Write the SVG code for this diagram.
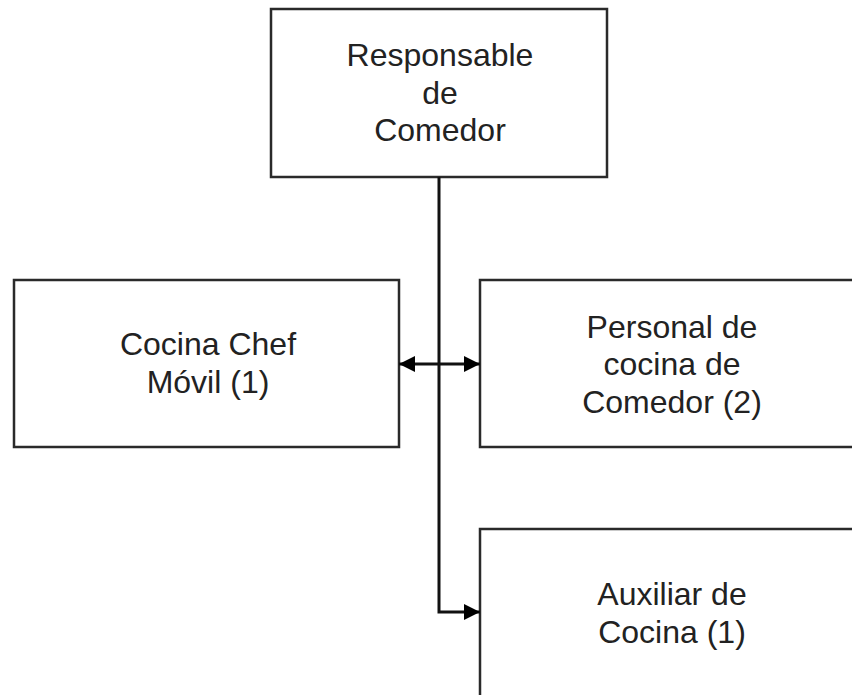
<svg xmlns="http://www.w3.org/2000/svg" width="852" height="695" viewBox="0 0 852 695">
<defs>
<style>
.box{fill:#fff;stroke:#2a2a2a;stroke-width:2.5}
.t{font-family:"Liberation Sans",Arial,sans-serif;font-size:32px;fill:#222;text-anchor:middle}
.c{fill:none;stroke:#111;stroke-width:3}
</style>
<marker id="ah" viewBox="0 0 16 16" refX="16" refY="8" markerWidth="16" markerHeight="16" markerUnits="userSpaceOnUse" orient="auto-start-reverse">
<path d="M0,0 L16,8 L0,16 Z" fill="#000"/>
</marker>
</defs>
<rect width="852" height="695" fill="#fff"/>
<g id="responsable">
<rect class="box" x="271" y="9" width="336" height="168"/>
<text class="t" x="440" y="66">Responsable</text>
<text class="t" x="440" y="104">de</text>
<text class="t" x="440" y="141">Comedor</text>
</g>
<g id="cocina-chef">
<rect class="box" x="14" y="280" width="385" height="167"/>
<text class="t" x="208" y="355">Cocina Chef</text>
<text class="t" x="208" y="393">Móvil (1)</text>
</g>
<g id="personal">
<rect class="box" x="480" y="280" width="390" height="167"/>
<text class="t" x="672" y="338">Personal de</text>
<text class="t" x="672" y="375">cocina de</text>
<text class="t" x="672" y="413">Comedor (2)</text>
</g>
<g id="auxiliar">
<rect class="box" x="480" y="529" width="390" height="180"/>
<text class="t" x="672" y="605">Auxiliar de</text>
<text class="t" x="672" y="643">Cocina (1)</text>
</g>
<g id="connectors">
<path class="c" d="M439,177 L439,612 L480,612" marker-end="url(#ah)"/>
<path class="c" d="M399,364 L480,364" marker-start="url(#ah)" marker-end="url(#ah)"/>
</g>
</svg>
